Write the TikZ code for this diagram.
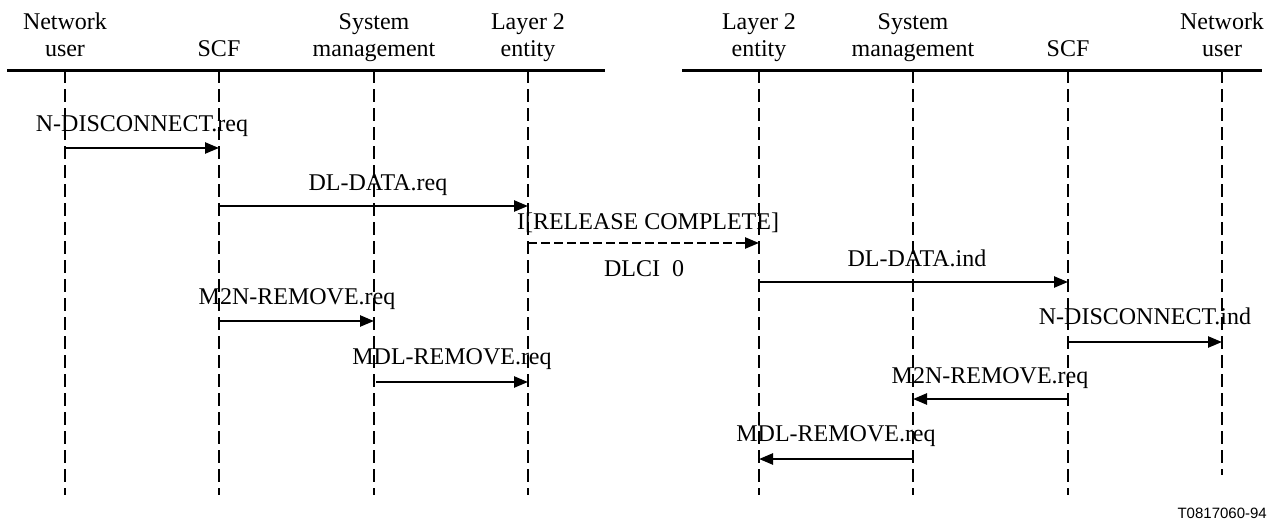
\documentclass[tikz,border=0pt]{standalone}
\usepackage{fontspec}
\setmainfont{Liberation Serif}
\newfontfamily\figsans{Liberation Sans}
\usetikzlibrary{arrows.meta}
\begin{document}
\begin{tikzpicture}[x=1pt,y=-1pt,
  lifeline/.style={line width=2.2pt,dash pattern=on 13pt off 6pt},
  headline/.style={line width=3pt},
  msg/.style={line width=2.5pt,-{Triangle[length=14pt,width=11pt]}},
  dmsg/.style={msg,dash pattern=on 9pt off 4pt},
  lbl/.style={font=\fontsize{24}{27}\selectfont,inner sep=0pt,anchor=base},
  tag/.style={font=\figsans\fontsize{15}{18}\selectfont,inner sep=0pt,anchor=base east}]
\useasboundingbox (0,0) rectangle (1278,522);

% header texts
\node[lbl] (h1a) at (65,29) {Network};
\node[lbl] (h1b) at (65,56) {user};
\node[lbl] (h2b) at (219,56) {SCF};
\node[lbl] (h3a) at (374,29) {System};
\node[lbl] (h3b) at (374,56) {management};
\node[lbl] (h4a) at (528,29) {Layer 2};
\node[lbl] (h4b) at (528,56) {entity};
\node[lbl] (h5a) at (759,29) {Layer 2};
\node[lbl] (h5b) at (759,56) {entity};
\node[lbl] (h6a) at (913,29) {System};
\node[lbl] (h6b) at (913,56) {management};
\node[lbl] (h7b) at (1068,56) {SCF};
\node[lbl] (h8a) at (1222,29) {Network};
\node[lbl] (h8b) at (1222,56) {user};

% header lines
\coordinate (hlA) at (7,70);
\coordinate (hlB) at (605,70);
\coordinate (hrA) at (682,70);
\coordinate (hrB) at (1262,70);
\draw[headline] (hlA) -- (hlB);
\draw[headline] (hrA) -- (hrB);

% lifelines
\coordinate (t1) at (65,70);   \coordinate (b1) at (65,495);
\coordinate (t2) at (219,70);  \coordinate (b2) at (219,495);
\coordinate (t3) at (374,70);  \coordinate (b3) at (374,495);
\coordinate (t4) at (528,70);  \coordinate (b4) at (528,495);
\coordinate (t5) at (759,70);  \coordinate (b5) at (759,495);
\coordinate (t6) at (913,70);  \coordinate (b6) at (913,495);
\coordinate (t7) at (1068,70); \coordinate (b7) at (1068,495);
\coordinate (t8) at (1222,70); \coordinate (b8) at (1222,475);
\foreach \i in {1,...,8} \draw[lifeline] (t\i) -- (b\i);

% messages
\coordinate (m1s) at (65,148);   \coordinate (m1e) at (219,148);
\coordinate (m2s) at (219,206);  \coordinate (m2e) at (528,206);
\coordinate (m3s) at (528,243);  \coordinate (m3e) at (759,243);
\coordinate (m4s) at (759,282);  \coordinate (m4e) at (1068,282);
\coordinate (m5s) at (219,321);  \coordinate (m5e) at (374,321);
\coordinate (m6s) at (1068,342); \coordinate (m6e) at (1222,342);
\coordinate (m7s) at (376,382);  \coordinate (m7e) at (528,382);
\coordinate (m8s) at (1068,399); \coordinate (m8e) at (913,399);
\coordinate (m9s) at (913,459);  \coordinate (m9e) at (759,459);

\draw[msg] (m1s) -- (m1e);
\draw[msg] (m2s) -- (m2e);
\draw[dmsg] (m3s) -- (m3e);
\draw[msg] (m4s) -- (m4e);
\draw[msg] (m5s) -- (m5e);
\draw[msg] (m6s) -- (m6e);
\draw[msg] (m7s) -- (m7e);
\draw[msg] (m8s) -- (m8e);
\draw[msg] (m9s) -- (m9e);

% labels
\node[lbl] (l1) at (142,131) {N-DISCONNECT.req};
\node[lbl] (l2) at (378,190) {DL-DATA.req};
\node[lbl] (l3) at (648,229) {I[RELEASE COMPLETE]};
\node[lbl] (l3b) at (644,276) {DLCI~~0};
\node[lbl] (l4) at (917,266) {DL-DATA.ind};
\node[lbl] (l5) at (297,304) {M2N-REMOVE.req};
\node[lbl] (l6) at (1145,324) {N-DISCONNECT.ind};
\node[lbl] (l7) at (452,364) {MDL-REMOVE.req};
\node[lbl] (l8) at (990,383) {M2N-REMOVE.req};
\node[lbl] (l9) at (836,441) {MDL-REMOVE.req};

\node[tag] (id) at (1267,518) {T0817060-94};
\end{tikzpicture}
\end{document}
